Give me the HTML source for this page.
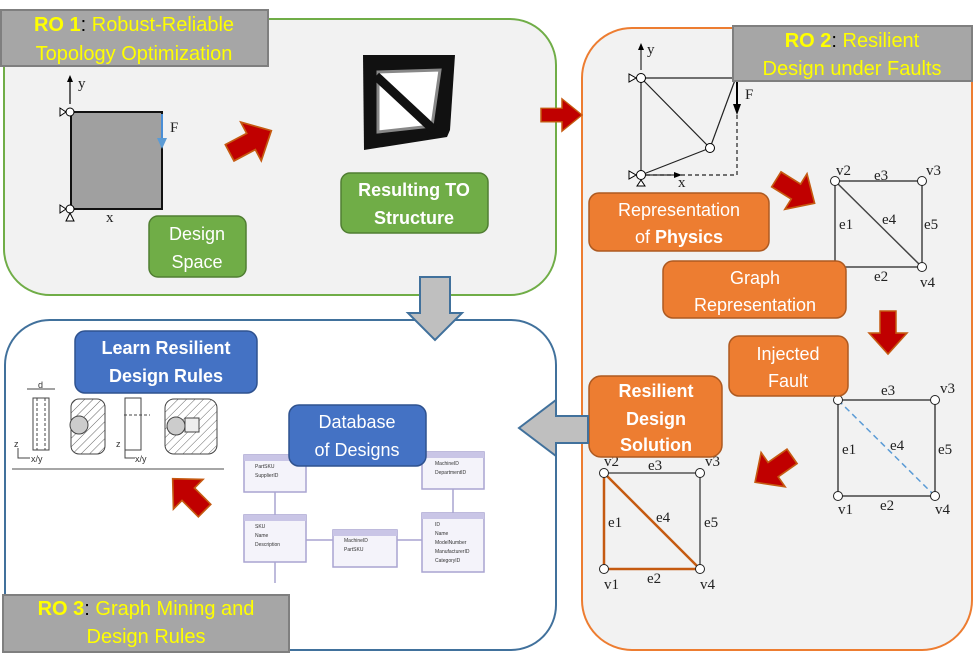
<!DOCTYPE html>
<html><head><meta charset="utf-8"><style>
body{margin:0;background:#fff;}
svg{display:block;font-family:"Liberation Sans",sans-serif;}
.s{font-family:"Liberation Serif",serif;font-size:15px;fill:#222;}
</style></head><body>
<svg width="974" height="669" viewBox="0 0 974 669" xmlns="http://www.w3.org/2000/svg">
<defs>
<path id="ra" d="M-20,-8 L1,-8 L1,-19 L21,0 L1,19 L1,8 L-20,8 Z" fill="#c00000" stroke="#c55a11" stroke-width="1.5"/>
<pattern id="hat" width="6" height="6" patternUnits="userSpaceOnUse" patternTransform="rotate(45)"><line x1="0" y1="0" x2="0" y2="6" stroke="#666" stroke-width="1"/></pattern>
</defs>
<rect x="4" y="19" width="552" height="276" rx="46" fill="#f2f2f2" stroke="#70ad47" stroke-width="2"/>
<rect x="582" y="28" width="390" height="622" rx="50" fill="#f2f2f2" stroke="#ed7d31" stroke-width="2"/>
<rect x="5" y="320" width="551" height="330" rx="45" fill="#fff" stroke="#41719c" stroke-width="2"/>

<rect x="1" y="10" width="267" height="56" fill="#a6a6a6" stroke="#7f7f7f" stroke-width="2"/>
<text x="134" y="31" font-size="20" fill="#ffff00" text-anchor="middle"><tspan font-weight="bold">RO 1</tspan><tspan fill="#000">:</tspan> Robust-Reliable</text>
<text x="134" y="60" font-size="20" fill="#ffff00" text-anchor="middle">Topology Optimization</text>

<line x1="70" y1="104" x2="70" y2="78" stroke="#000" stroke-width="1.2"/>
<path d="M67,82 L70,75 L73,82Z"/>
<text x="78" y="88" class="s">y</text>
<rect x="71" y="112" width="91" height="97" fill="#a0a0a0" stroke="#111" stroke-width="2"/>
<circle cx="70" cy="112" r="4" fill="#fff" stroke="#000"/>
<circle cx="70" cy="209" r="4" fill="#fff" stroke="#000"/>
<path d="M66,112 L60,108 L60,116Z M66,209 L60,205 L60,213Z M70,213 L66,221 L74,221Z" fill="#fff" stroke="#000"/>
<line x1="162" y1="114" x2="162" y2="140" stroke="#4a8ed6" stroke-width="2"/>
<path d="M157,138 L167,138 L162,149Z" fill="#5b9bd5"/>
<text x="170" y="132" class="s">F</text>
<text x="106" y="222" class="s">x</text>

<use href="#ra" transform="translate(250,142) rotate(-28) scale(1.15)"/>

<path d="M363,55 L455,55 L450,130 L447,137 L364,150 Z" fill="#111"/>
<path d="M378,72 L440,70 L432,126 L378,132 Z" fill="#fff" stroke="#888" stroke-width="3"/>
<line x1="376" y1="76" x2="434" y2="130" stroke="#111" stroke-width="9"/>

<rect x="149" y="216" width="97" height="61" rx="9" fill="#70ad47" stroke="#507e32" stroke-width="1.5"/>
<text x="197" y="240" font-size="18" fill="#fff" text-anchor="middle">Design</text>
<text x="197" y="268" font-size="18" fill="#fff" text-anchor="middle">Space</text>
<rect x="341" y="173" width="147" height="60" rx="9" fill="#70ad47" stroke="#507e32" stroke-width="1.5"/>
<text x="414" y="196" font-size="18" font-weight="bold" fill="#fff" text-anchor="middle">Resulting TO</text>
<text x="414" y="224" font-size="18" font-weight="bold" fill="#fff" text-anchor="middle">Structure</text>

<use href="#ra" transform="translate(561,115) scale(1,0.85)"/>

<line x1="641" y1="70" x2="641" y2="46" stroke="#000"/>
<path d="M638,50 L641,43 L644,50Z"/>
<text x="647" y="54" class="s">y</text>
<g stroke="#222" stroke-width="1.2" fill="none">
<line x1="641" y1="78" x2="737" y2="78"/>
<line x1="641" y1="78" x2="641" y2="175"/>
<line x1="641" y1="78" x2="710" y2="148"/>
<line x1="641" y1="175" x2="710" y2="148"/>
<line x1="710" y1="148" x2="735" y2="80"/>
<path d="M737,115 L737,175 L645,175" stroke-dasharray="4,3"/>
</g>
<line x1="737" y1="80" x2="737" y2="106" stroke="#000" stroke-width="2"/>
<path d="M733,104 L741,104 L737,115Z"/>
<text x="745" y="99" class="s">F</text>
<line x1="646" y1="175" x2="676" y2="175" stroke="#000"/>
<path d="M674,172 L682,175 L674,178Z"/>
<text x="678" y="187" class="s">x</text>
<circle cx="641" cy="78" r="4.5" fill="#fff" stroke="#000"/>
<circle cx="641" cy="175" r="4.5" fill="#fff" stroke="#000"/>
<circle cx="710" cy="148" r="4.5" fill="#fff" stroke="#000"/>
<path d="M636,78 L629,74 L629,82Z M636,175 L629,171 L629,179Z M641,180 L637,186 L645,186Z" fill="#fff" stroke="#000"/>

<rect x="733" y="26" width="239" height="55" fill="#a6a6a6" stroke="#7f7f7f" stroke-width="2"/>
<text x="852" y="47" font-size="20" fill="#ffff00" text-anchor="middle"><tspan font-weight="bold">RO 2</tspan><tspan fill="#000">:</tspan> Resilient</text>
<text x="852" y="75" font-size="20" fill="#ffff00" text-anchor="middle">Design under Faults</text>

<use href="#ra" transform="translate(795,191) rotate(32) scale(1.1)"/>

<g stroke="#444" stroke-width="1.5" fill="none">
<rect x="835" y="181" width="87" height="86"/>
<line x1="835" y1="181" x2="922" y2="267"/>
</g>
<circle cx="835" cy="181" r="4.5" fill="#fff" stroke="#222"/>
<circle cx="922" cy="181" r="4.5" fill="#fff" stroke="#222"/>
<circle cx="922" cy="267" r="4.5" fill="#fff" stroke="#222"/>
<text x="836" y="175" class="s">v2</text><text x="926" y="175" class="s">v3</text>
<text x="874" y="180" class="s">e3</text><text x="839" y="229" class="s">e1</text>
<text x="882" y="224" class="s">e4</text><text x="924" y="229" class="s">e5</text>
<text x="874" y="281" class="s">e2</text><text x="920" y="287" class="s">v4</text>

<rect x="589" y="193" width="180" height="58" rx="10" fill="#ed7d31" stroke="#ae5a21" stroke-width="1.5"/>
<text x="679" y="216" font-size="18" fill="#fff" text-anchor="middle">Representation</text>
<text x="679" y="243" font-size="18" fill="#fff" text-anchor="middle">of <tspan font-weight="bold">Physics</tspan></text>
<rect x="663" y="261" width="183" height="57" rx="10" fill="#ed7d31" stroke="#ae5a21" stroke-width="1.5"/>
<text x="755" y="284" font-size="18" fill="#fff" text-anchor="middle">Graph</text>
<text x="755" y="311" font-size="18" fill="#fff" text-anchor="middle">Representation</text>

<use href="#ra" transform="translate(888,332) rotate(90) scale(1.05,1)"/>

<g stroke="#444" stroke-width="1.5" fill="none">
<rect x="838" y="400" width="97" height="96"/>
</g>
<line x1="838" y1="400" x2="935" y2="496" stroke="#5b9bd5" stroke-width="1.5" stroke-dasharray="6,4"/>
<circle cx="838" cy="400" r="4.5" fill="#fff" stroke="#222"/>
<circle cx="935" cy="400" r="4.5" fill="#fff" stroke="#222"/>
<circle cx="838" cy="496" r="4.5" fill="#fff" stroke="#222"/>
<circle cx="935" cy="496" r="4.5" fill="#fff" stroke="#222"/>
<text x="940" y="393" class="s">v3</text><text x="881" y="395" class="s">e3</text>
<text x="842" y="454" class="s">e1</text><text x="890" y="450" class="s">e4</text>
<text x="938" y="454" class="s">e5</text><text x="880" y="510" class="s">e2</text>
<text x="838" y="514" class="s">v1</text><text x="935" y="514" class="s">v4</text>

<rect x="729" y="336" width="119" height="60" rx="10" fill="#ed7d31" stroke="#ae5a21" stroke-width="1.5"/>
<text x="788" y="360" font-size="18" fill="#fff" text-anchor="middle">Injected</text>
<text x="788" y="387" font-size="18" fill="#fff" text-anchor="middle">Fault</text>

<use href="#ra" transform="translate(774,469) rotate(145) scale(1.1)"/>

<g stroke="#555" stroke-width="1.5" fill="none">
<line x1="604" y1="473" x2="700" y2="473"/><line x1="700" y1="473" x2="700" y2="569"/>
</g>
<g stroke="#c55a11" stroke-width="2.5" fill="none">
<line x1="604" y1="473" x2="604" y2="569"/><line x1="604" y1="569" x2="700" y2="569"/><line x1="604" y1="473" x2="700" y2="569"/>
</g>
<circle cx="604" cy="473" r="4.5" fill="#fff" stroke="#222"/>
<circle cx="700" cy="473" r="4.5" fill="#fff" stroke="#222"/>
<circle cx="604" cy="569" r="4.5" fill="#fff" stroke="#222"/>
<circle cx="700" cy="569" r="4.5" fill="#fff" stroke="#222"/>
<text x="604" y="466" class="s">v2</text><text x="705" y="466" class="s">v3</text>
<text x="648" y="470" class="s">e3</text><text x="608" y="527" class="s">e1</text>
<text x="656" y="522" class="s">e4</text><text x="704" y="527" class="s">e5</text>
<text x="647" y="583" class="s">e2</text><text x="604" y="589" class="s">v1</text>
<text x="700" y="589" class="s">v4</text>

<rect x="589" y="376" width="133" height="81" rx="12" fill="#ed7d31" stroke="#ae5a21" stroke-width="1.5"/>
<text x="656" y="397" font-size="18" font-weight="bold" fill="#fff" text-anchor="middle">Resilient</text>
<text x="656" y="425" font-size="18" font-weight="bold" fill="#fff" text-anchor="middle">Design</text>
<text x="656" y="451" font-size="18" font-weight="bold" fill="#fff" text-anchor="middle">Solution</text>

<path d="M420,277 L450,277 L450,313 L462,313 L435,340 L408,313 L420,313 Z" fill="#bfbfbf" stroke="#41719c" stroke-width="2"/>
<path d="M588,416 L556,416 L556,400 L519,428 L556,456 L556,443 L588,443 Z" fill="#bfbfbf" stroke="#41719c" stroke-width="2"/>

<rect x="75" y="331" width="182" height="62" rx="10" fill="#4472c4" stroke="#2f528f" stroke-width="1.5"/>
<text x="166" y="354" font-size="18" font-weight="bold" fill="#fff" text-anchor="middle">Learn Resilient</text>
<text x="166" y="382" font-size="18" font-weight="bold" fill="#fff" text-anchor="middle">Design Rules</text>

<g stroke="#444" fill="none" stroke-width="1">
<rect x="33" y="398" width="16" height="52"/>
<line x1="37" y1="398" x2="37" y2="450" stroke-dasharray="3,2"/><line x1="45" y1="398" x2="45" y2="450" stroke-dasharray="3,2"/>
<line x1="27" y1="389" x2="55" y2="389"/>
<rect x="71" y="399" width="34" height="55" rx="8" fill="url(#hat)"/>
<circle cx="79" cy="425" r="9" fill="#ccc"/>
<rect x="125" y="398" width="16" height="52"/>
<line x1="124" y1="415" x2="150" y2="415" stroke-dasharray="3,2"/>
<rect x="165" y="399" width="52" height="55" rx="9" fill="url(#hat)"/>
<circle cx="176" cy="426" r="9" fill="#ccc"/>
<rect x="185" y="418" width="14" height="14" fill="#eee"/>
<line x1="12" y1="469" x2="224" y2="469" stroke="#888" stroke-width="1.5"/>
<path d="M18,448 L18,458 L30,458 M125,448 L125,458 L135,458"/>
</g>
<text x="38" y="388" font-size="9" fill="#333">d</text>
<text x="14" y="447" font-size="9" fill="#333">z</text><text x="31" y="462" font-size="9" fill="#333">x/y</text>
<text x="116" y="447" font-size="9" fill="#333">z</text><text x="135" y="462" font-size="9" fill="#333">x/y</text>

<use href="#ra" transform="translate(189,495) rotate(-135) scale(1.1)"/>

<g fill="#f4f3fa" stroke="#a9a4d1" stroke-width="1.5">
<rect x="244" y="455" width="62" height="37"/>
<rect x="244" y="515" width="62" height="47"/>
<rect x="333" y="530" width="64" height="37"/>
<rect x="422" y="452" width="62" height="37"/>
<rect x="422" y="513" width="62" height="59"/>
</g>
<g fill="#c9c5e6"><rect x="244" y="455" width="62" height="6"/><rect x="244" y="515" width="62" height="6"/><rect x="333" y="530" width="64" height="6"/><rect x="422" y="452" width="62" height="6"/><rect x="422" y="513" width="62" height="6"/></g>
<g stroke="#a9a4d1" stroke-width="1.5"><line x1="275" y1="492" x2="275" y2="515"/><line x1="306" y1="540" x2="333" y2="540"/><line x1="397" y1="540" x2="422" y2="540"/><line x1="453" y1="489" x2="453" y2="513"/><line x1="275" y1="562" x2="275" y2="583"/></g>
<g font-size="5" fill="#333"><text x="255" y="468">PartSKU</text><text x="255" y="477">SupplierID</text><text x="255" y="528">SKU</text><text x="255" y="537">Name</text><text x="255" y="546">Description</text><text x="344" y="542">MachineID</text><text x="344" y="551">PartSKU</text><text x="435" y="465">MachineID</text><text x="435" y="474">DepartmentID</text><text x="435" y="526">ID</text><text x="435" y="535">Name</text><text x="435" y="544">ModelNumber</text><text x="435" y="553">ManufacturerID</text><text x="435" y="562">CategoryID</text></g>

<rect x="289" y="405" width="137" height="61" rx="10" fill="#4472c4" stroke="#2f528f" stroke-width="1.5"/>
<text x="357" y="428" font-size="18" fill="#fff" text-anchor="middle">Database</text>
<text x="357" y="456" font-size="18" fill="#fff" text-anchor="middle">of Designs</text>

<rect x="3" y="595" width="286" height="57" fill="#a6a6a6" stroke="#7f7f7f" stroke-width="2"/>
<text x="146" y="615" font-size="20" fill="#ffff00" text-anchor="middle"><tspan font-weight="bold">RO 3</tspan><tspan fill="#000">:</tspan> Graph Mining and</text>
<text x="146" y="643" font-size="20" fill="#ffff00" text-anchor="middle">Design Rules</text>
</svg>
</body></html>
